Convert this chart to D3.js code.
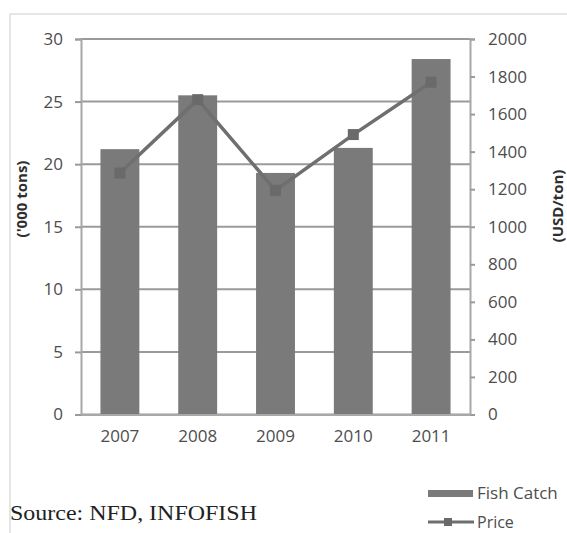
<!DOCTYPE html>
<html>
<head>
<meta charset="utf-8">
<script src="https://cdn.jsdelivr.net/npm/d3@7"></script>
<style>
  html, body { margin: 0; padding: 0; background: #fff; }
  svg { display: block; }
</style>
</head>
<body>
<svg id="chart" width="567" height="533"></svg>
<script>
// Fish catch ('000 tons) and price (USD/ton), 2007-2011
const years = ["2007", "2008", "2009", "2010", "2011"];
const fishCatch = [21.2, 25.5, 19.3, 21.3, 28.4];
const price = [1286, 1677, 1194, 1491, 1770];
const leftTicks = [0, 5, 10, 15, 20, 25, 30];
const rightTicks = [0, 200, 400, 600, 800, 1000, 1200, 1400, 1600, 1800, 2000];

const SANS = "'Open Sans', 'DejaVu Sans', sans-serif";
const SERIF = "'Liberation Serif', 'Times New Roman', serif";

const svg = d3.select("#chart");
const plot = { left: 81, right: 470, top: 39, bottom: 414.5 };

// outer frame of the chart
svg.append("rect")
  .attr("x", 10).attr("y", 14)
  .attr("width", 600).attr("height", 600)
  .attr("fill", "none").attr("stroke", "#dedede").attr("stroke-width", 1.5);

const x = d3.scaleBand().domain(years)
  .range([plot.left, plot.right]).paddingInner(0.5).paddingOuter(0.25);
const y = d3.scaleLinear().domain([0, 30]).range([plot.bottom, plot.top]);
const y2 = d3.scaleLinear().domain([0, 2000]).range([plot.bottom, plot.top]);

// horizontal gridlines
svg.append("g").selectAll("line").data(leftTicks).join("line")
  .attr("x1", plot.left).attr("x2", plot.right)
  .attr("y1", d => y(d)).attr("y2", d => y(d))
  .attr("stroke", "#9a9a9a").attr("stroke-width", 2);

function styleAxis(g) {
  g.select(".domain").attr("stroke", "#a8a8a8").attr("stroke-width", 2);
  g.selectAll(".tick line").attr("stroke", "#9a9a9a").attr("stroke-width", 2);
  g.selectAll(".tick text").style("font-family", SANS).style("font-size", "17px")
    .attr("fill", "#4d4d4d");
}

// left axis
const gl = svg.append("g").attr("transform", `translate(${plot.left},0)`)
  .call(d3.axisLeft(y).tickValues(leftTicks).tickSize(6).tickPadding(12));
styleAxis(gl);

// right axis
const gr = svg.append("g").attr("transform", `translate(${plot.right},0)`)
  .call(d3.axisRight(y2).tickValues(rightTicks).tickFormat(d3.format("d"))
    .tickSize(5).tickPadding(13));
styleAxis(gr);

// bars
svg.append("g").selectAll("rect").data(years).join("rect")
  .attr("x", d => x(d)).attr("width", x.bandwidth())
  .attr("y", (d, i) => y(fishCatch[i]))
  .attr("height", (d, i) => y(0) - y(fishCatch[i]))
  .attr("fill", "#7a7a7a");

// bottom axis labels
const gb = svg.append("g").attr("transform", `translate(0,${plot.bottom})`)
  .call(d3.axisBottom(x).tickSize(0).tickPadding(15));
styleAxis(gb);

// price line with square markers
const line = d3.line()
  .x((d, i) => x(years[i]) + x.bandwidth() / 2)
  .y(d => y2(d));
svg.append("path").datum(price)
  .attr("d", line).attr("fill", "none")
  .attr("stroke", "#6f6f6f").attr("stroke-width", 3.5);
svg.append("g").selectAll("rect").data(price).join("rect")
  .attr("x", (d, i) => x(years[i]) + x.bandwidth() / 2 - 5.5)
  .attr("y", d => y2(d) - 5.5)
  .attr("width", 11).attr("height", 11)
  .attr("fill", "#6a6a6a");

// axis titles
svg.append("text")
  .attr("transform", "translate(27,199) rotate(-90)")
  .attr("text-anchor", "middle")
  .style("font-family", SANS).style("font-size", "15px").style("font-weight", "bold")
  .attr("fill", "#2e2e2e").text("('000 tons)");
svg.append("text")
  .attr("transform", "translate(563,206) rotate(-90)")
  .attr("text-anchor", "middle")
  .style("font-family", SANS).style("font-size", "15px").style("font-weight", "bold")
  .attr("fill", "#2e2e2e").text("(USD/ton)");

// legend
const lg = svg.append("g");
lg.append("rect").attr("x", 428).attr("y", 490).attr("width", 45).attr("height", 7)
  .attr("fill", "#7a7a7a");
lg.append("text").attr("x", 477).attr("y", 499)
  .style("font-family", SANS).style("font-size", "17px")
  .attr("fill", "#4d4d4d").text("Fish Catch");
lg.append("line").attr("x1", 428).attr("x2", 474).attr("y1", 522).attr("y2", 522)
  .attr("stroke", "#6f6f6f").attr("stroke-width", 3);
lg.append("rect").attr("x", 444).attr("y", 518).attr("width", 8).attr("height", 8)
  .attr("fill", "#6a6a6a");
lg.append("text").attr("x", 477).attr("y", 528)
  .style("font-family", SANS).style("font-size", "16px")
  .attr("fill", "#4d4d4d").text("Price");

// source note
svg.append("text").attr("x", 10).attr("y", 520)
  .style("font-family", SERIF).style("font-size", "22px")
  .attr("textLength", 247).attr("lengthAdjust", "spacingAndGlyphs")
  .attr("fill", "#222")
  .text("Source: NFD, INFOFISH");
</script>
</body>
</html>
